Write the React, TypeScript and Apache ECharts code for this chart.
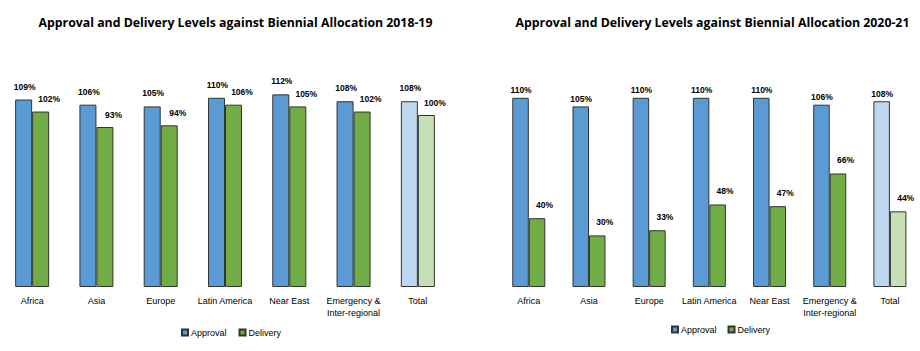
import React, { useEffect, useRef } from "react";
import * as echarts from "echarts";

const categories = ["Africa", "Asia", "Europe", "Latin America", "Near East", "Emergency &\nInter-regional", "Total"];
const approval1819 = [109, 106, 105, 110, 112, 108, 108];
const delivery1819 = [102, 93, 94, 106, 105, 102, 100];
const approval2021 = [110, 105, 110, 110, 110, 106, 108];
const delivery2021 = [40, 30, 33, 48, 47, 66, 44];
const title1819 = "Approval and Delivery Levels against Biennial Allocation 2018-19";
const title2021 = "Approval and Delivery Levels against Biennial Allocation 2020-21";

const BLUE = "#5B9BD5";
const GREEN = "#70AD47";
const LIGHT_BLUE = "#BDD7EE";
const LIGHT_GREEN = "#C5E0B4";
const FONT = "Liberation Sans";

function toData(vals: number[], color: string, totalColor: string) {
  return vals.map((v, i) => ({
    value: v,
    itemStyle: { color: i === vals.length - 1 ? totalColor : color },
  }));
}

export default function App() {
  const ref = useRef<HTMLDivElement>(null);
  useEffect(() => {
    if (!ref.current) return;
    const chart = echarts.init(ref.current, undefined, { renderer: "svg" });
    const labelBase = {
      show: true,
      position: "top" as const,
      distance: 5,
      formatter: "{c}%",
      fontFamily: FONT,
      fontSize: 8.5,
      fontWeight: "bold" as const,
      color: "#000",
    };
    const item = (c: string) => ({ color: c, borderColor: "#333", borderWidth: 1 });
    const xAxisBase = {
      type: "category" as const,
      data: categories,
      axisLine: { show: false },
      axisTick: { show: false },
      axisLabel: { fontFamily: FONT, fontSize: 9, color: "#000", margin: 8, lineHeight: 12, interval: 0 },
    };
    const yAxisBase = {
      type: "value" as const,
      min: 0,
      max: 120,
      show: false,
      splitLine: { show: false },
    };
    const titleStyle = { fontFamily: "Open Sans", fontSize: 12.3, fontWeight: "bold", color: "#000" };
    const legendText = { fontFamily: FONT, fontSize: 9, color: "#000", padding: [0, 0, 0, -2] };
    chart.setOption({
      animation: false,
      backgroundColor: "#fff",
      title: [
        { text: title1819, left: 230.5, textAlign: "center", top: 11, textStyle: titleStyle },
        { text: title2021, left: 707.5, textAlign: "center", top: 11, textStyle: titleStyle },
      ],
      legend: [
        {
          left: 176,
          top: 323,
          itemWidth: 6,
          itemHeight: 6,
          itemGap: 12,
          icon: "rect",
          data: ["Approval", "Delivery"],
          textStyle: legendText,
        },
        {
          left: 666,
          top: 320,
          itemWidth: 6,
          itemHeight: 6,
          itemGap: 11,
          icon: "rect",
          data: ["Approval", "Delivery"],
          textStyle: legendText,
        },
      ],
      grid: [
        { left: -3, width: 453, top: 80.6, bottom: 64 },
        { left: 498.7, width: 424, top: 80.6, bottom: 64 },
      ],
      xAxis: [
        { ...xAxisBase, gridIndex: 0 },
        { ...xAxisBase, gridIndex: 1 },
      ],
      yAxis: [
        { ...yAxisBase, gridIndex: 0 },
        { ...yAxisBase, gridIndex: 1 },
      ],
      series: [
        {
          name: "Approval",
          type: "bar",
          xAxisIndex: 0,
          yAxisIndex: 0,
          barWidth: 17,
          barGap: "0%",
          itemStyle: item(BLUE),
          data: toData(approval1819, BLUE, LIGHT_BLUE),
          label: { ...labelBase, offset: [1, -3.5] },
        },
        {
          name: "Delivery",
          type: "bar",
          xAxisIndex: 0,
          yAxisIndex: 0,
          barWidth: 17,
          barGap: "0%",
          itemStyle: item(GREEN),
          data: toData(delivery1819, GREEN, LIGHT_GREEN),
          label: { ...labelBase, offset: [8.5, -3] },
        },
        {
          name: "Approval",
          type: "bar",
          xAxisIndex: 1,
          yAxisIndex: 1,
          barWidth: 16.5,
          barGap: "0%",
          itemStyle: item(BLUE),
          data: toData(approval2021, BLUE, LIGHT_BLUE),
          label: { ...labelBase, offset: [0.5, 2] },
        },
        {
          name: "Delivery",
          type: "bar",
          xAxisIndex: 1,
          yAxisIndex: 1,
          barWidth: 16.5,
          barGap: "0%",
          itemStyle: item(GREEN),
          data: toData(delivery2021, GREEN, LIGHT_GREEN),
          label: { ...labelBase, offset: [7.5, -3.5] },
        },
      ],
    });
    return () => chart.dispose();
  }, []);
  return <div ref={ref} style={{ width: 920, height: 351, position: "absolute", left: 0, top: 0 }} />;
}
